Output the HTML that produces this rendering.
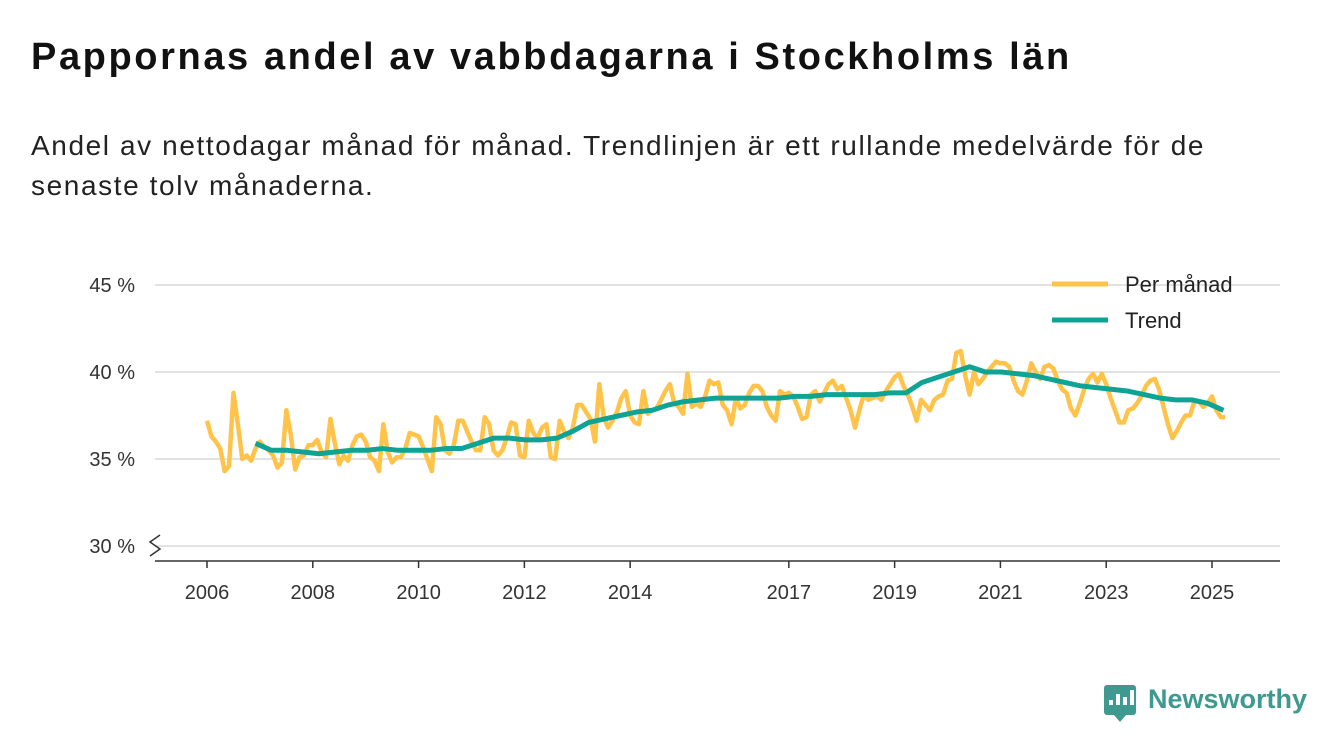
<!DOCTYPE html>
<html><head><meta charset="utf-8">
<style>
body{margin:0;width:1340px;height:753px;background:#fff;font-family:"Liberation Sans",sans-serif;overflow:hidden;position:relative}
h1{position:absolute;left:31px;top:36px;margin:0;font-size:38px;letter-spacing:2.6px;font-weight:bold;color:#111;white-space:nowrap}
p{position:absolute;left:31px;top:126px;margin:0;font-size:28px;letter-spacing:1.6px;line-height:40px;color:#222;width:1240px}
svg{position:absolute;left:0;top:0}
</style></head><body>
<h1>Pappornas andel av vabbdagarna i Stockholms län</h1>
<p>Andel av nettodagar månad för månad. Trendlinjen är ett rullande medelvärde för de senaste tolv månaderna.</p>
<svg id="chart" width="1340" height="753"></svg>
<script>
const monthly = [
37.2,36.3,36.0,35.6,34.3,34.6,38.8,37.0,35.0,35.2,34.9,35.6,
36.0,35.7,35.5,35.2,34.5,34.8,37.8,36.4,34.4,35.1,35.2,35.8,
35.8,36.1,35.4,35.1,37.3,35.9,34.7,35.2,34.9,35.8,36.3,36.4,
36.0,35.1,34.9,34.3,37.0,35.4,34.8,35.1,35.1,35.6,36.5,36.4,
36.3,35.7,35.0,34.3,37.4,37.0,35.5,35.3,35.8,37.2,37.2,36.6,
36.0,35.5,35.5,37.4,37.0,35.5,35.2,35.5,36.2,37.1,37.0,35.2,
35.1,37.2,36.5,36.2,36.8,37.0,35.1,35.0,37.2,36.6,36.2,36.8,
38.1,38.1,37.7,37.3,36.0,39.3,37.4,36.8,37.2,37.7,38.5,38.9,
37.5,37.1,37.0,38.9,37.6,37.8,37.9,38.4,38.9,39.3,38.2,38.0,
37.6,39.9,38.0,38.2,38.0,38.6,39.5,39.3,39.4,38.1,37.8,37.0,
38.5,37.9,38.1,38.8,39.2,39.2,38.9,38.0,37.5,37.2,38.9,38.7,
38.8,38.6,38.0,37.3,37.4,38.7,38.9,38.3,38.8,39.3,39.5,39.0,
39.2,38.5,37.8,36.8,37.8,38.7,38.4,38.5,38.6,38.4,38.9,39.3,
39.7,39.9,39.2,38.7,38.0,37.2,38.4,38.1,37.8,38.4,38.6,38.7,
39.5,39.6,41.1,41.2,39.8,38.7,40.0,39.3,39.6,40.0,40.3,40.6,
40.5,40.5,40.3,39.5,38.9,38.7,39.5,40.5,40.0,39.6,40.3,40.4,
40.2,39.5,39.0,38.8,37.9,37.5,38.2,39.0,39.6,39.9,39.4,39.9,
39.3,38.5,37.8,37.1,37.1,37.8,37.9,38.2,38.6,39.2,39.5,39.6,
39.0,38.0,37.0,36.2,36.6,37.1,37.5,37.5,38.3,38.3,38.0,38.2,
38.6,37.8,37.4,37.4];
const trendStartMonth = 11;
const trend = [35.9,35.5,35.5,35.4,35.3,35.4,35.5,35.5,35.6,35.5,35.5,35.5,35.6,35.6,35.9,36.2,36.2,36.1,36.1,36.2,36.6,37.1,37.3,37.5,37.7,37.8,38.1,38.3,38.4,38.5,38.5,38.5,38.5,38.5,38.6,38.6,38.7,38.7,38.7,38.7,38.8,38.8,39.4,39.7,40.0,40.3,40.0,40.0,39.9,39.8,39.6,39.4,39.2,39.1,39.0,38.9,38.7,38.5,38.4,38.4,38.2,37.8];
const trendStep = 3.6;
const yTicks = [30,35,40,45];
const xTicks = [2006,2008,2010,2012,2014,2017,2019,2021,2023,2025];

const svg=document.getElementById('chart');
const NS='http://www.w3.org/2000/svg';
const x=m=>207+m*(1005/228);
const y=v=>372-(v-40)*17.4;
function el(t,a){const e=document.createElementNS(NS,t);for(const k in a)e.setAttribute(k,a[k]);svg.appendChild(e);return e;}
yTicks.forEach(v=>{
  const g=el('line',{x1:155,x2:1280,y1:y(v),y2:y(v),stroke:'#d9d9d9','stroke-width':1.5});
  
  
  const t=el('text',{x:135,y:y(v)+7,'text-anchor':'end','font-size':20,fill:'#333','font-family':'Liberation Sans, sans-serif'});
  t.textContent=v+' %';
  
  
});
const ax=el('line',{x1:155,x2:1280,y1:561,y2:561,stroke:'#333','stroke-width':1.5});


const brk=el('path',{d:'M150,556 L160,549 L150,542 L160,535',fill:'none',stroke:'#333','stroke-width':1.5});


xTicks.forEach(yr=>{
  const xx=x((yr-2006)*12);
  const tk=el('line',{x1:xx,x2:xx,y1:561,y2:568,stroke:'#333','stroke-width':1.5});
  
  
  const t=el('text',{x:xx,y:599,'text-anchor':'middle','font-size':20,fill:'#333','font-family':'Liberation Sans, sans-serif'});
  t.textContent=yr;
  
  
});
const mp=el('polyline',{points:monthly.map((v,i)=>x(i)+','+y(v)).join(' '),fill:'none',stroke:'#ffc34a','stroke-width':4.5,'stroke-linejoin':'round'});


const tp=el('polyline',{points:trend.map((v,i)=>x(trendStartMonth+i*trendStep)+','+y(v)).join(' '),fill:'none',stroke:'#0ea394','stroke-width':5,'stroke-linejoin':'round'});


[['Per månad','#ffc34a',284],['Trend','#0ea394',320]].forEach(([n,c,yy])=>{
  const l=el('line',{x1:1052,x2:1108,y1:yy,y2:yy,stroke:c,'stroke-width':5});
  
  
  const t=el('text',{x:1125,y:yy+8,'font-size':22,fill:'#222','font-family':'Liberation Sans, sans-serif'});
  t.textContent=n;
  
  
});
const logo=el('rect',{x:1104,y:685,width:32,height:30,rx:3,fill:'#3e9a8f'});


const tri=el('path',{d:'M1114,715 L1120,722 L1126,715 Z',fill:'#3e9a8f'});


[[1109,700,5],[1116,694,11],[1123,697,8],[1130,690,15]].forEach(b=>{
  const r=el('rect',{x:b[0],y:b[1],width:4,height:b[2],fill:'#fff'});
  
  
});
const lt=el('text',{x:1148,y:708,'font-size':27,'font-weight':'bold',fill:'#3e9a8f','font-family':'Liberation Sans, sans-serif'});
lt.textContent='Newsworthy';


</script>
</body></html>
